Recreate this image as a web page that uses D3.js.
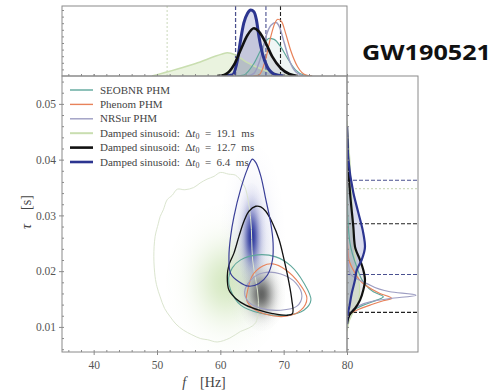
<!DOCTYPE html>
<html>
<head>
<meta charset="utf-8">
<script src="https://cdn.jsdelivr.net/npm/d3@7"></script>
<style>
  body { margin: 0; background: #fff; }
  svg { display: block; }
  .tick text { font-family: "Liberation Serif", serif; fill: #555; }
</style>
</head>
<body>
<svg id="chart" width="495" height="391"></svg>
<script>
// ---- values ----
const seriesKeys = ['SEOBNR', 'Phenom', 'NRSur', 'DS19', 'DS12', 'DS6']
const legendNames = ['SEOBNR PHM', 'Phenom PHM', 'NRSur PHM', 'Damped sinusoid:', 'Damped sinusoid:', 'Damped sinusoid:']
const legendDt = [null, null, null, '19.1', '12.7', '6.4']

// top marginal: [f (Hz), density]
const topSEOBNR = [[62.5, 0], [63.7, 0.015], [65.3, 0.19], [66.65, 0.44], [67.7, 0.57], [68.5, 0.555], [69.55, 0.44], [70.6, 0.27], [71.9, 0.09], [73.2, 0.015], [74.5, 0]]
const topPhenom = [[65.2, 0], [66.1, 0.015], [67.2, 0.27], [67.96, 0.595], [68.6, 0.8], [69.1, 0.86], [69.7, 0.82], [70.3, 0.65], [71.1, 0.39], [72.2, 0.14], [73.5, 0.015], [74.5, 0]]
const topNRSur = [[64.3, 0], [65.3, 0.04], [66.4, 0.29], [67.2, 0.6], [68.0, 0.77], [68.8, 0.81], [69.3, 0.75], [70.1, 0.5], [70.9, 0.24], [71.9, 0.065], [73.2, 0]]
const topDS19 = [[49.2, 0], [56.1, 0.19], [60.3, 0.333], [61.1, 0.353], [62.4, 0.318], [64.0, 0.217], [65.6, 0.141], [67.7, 0.065], [69.8, 0.015], [71.9, 0]]
const topDS12 = [[59.5, 0], [60.6, 0.015], [62.15, 0.167], [63.2, 0.394], [64.3, 0.621], [65.3, 0.723], [66.1, 0.671], [67.2, 0.495], [68.2, 0.292], [69.55, 0.117], [70.9, 0.03], [72.2, 0]]
const topDS6 = [[60.5, 0], [61.9, 0.015], [62.7, 0.24], [63.2, 0.545], [63.7, 0.8], [64.3, 0.95], [64.8, 1.0], [65.3, 0.974], [65.7, 0.85], [66.1, 0.595], [66.65, 0.34], [67.4, 0.14], [68.5, 0.03], [70, 0]]

// right marginal: [tau (s), density]
const rightSEOBNR = [[0.0110, 0], [0.0121, 0.019], [0.0130, 0.09], [0.0139, 0.233], [0.0148, 0.424], [0.0154, 0.519], [0.0163, 0.376], [0.0181, 0.233], [0.0208, 0.139], [0.0250, 0.043], [0.030, 0.01], [0.035, 0]]
const rightPhenom = [[0.0110, 0], [0.0118, 0.004], [0.0124, 0.043], [0.0130, 0.139], [0.0139, 0.329], [0.0147, 0.519], [0.0151, 0.639], [0.0160, 0.471], [0.0175, 0.257], [0.0202, 0.09], [0.0226, 0.019], [0.028, 0]]
const rightNRSur = [[0.0110, 0], [0.0124, 0.043], [0.0136, 0.139], [0.0145, 0.33], [0.0151, 0.614], [0.0157, 0.986], [0.0163, 0.614], [0.0178, 0.28], [0.0196, 0.043], [0.0230, 0.01], [0.028, 0]]
const rightDS19 = [[0.0092, 0], [0.0110, 0.03], [0.0130, 0.10], [0.0150, 0.17], [0.0170, 0.18], [0.0200, 0.14], [0.0250, 0.10], [0.0300, 0.08], [0.0350, 0.06], [0.0400, 0.04], [0.0450, 0.01], [0.047, 0]]
const rightDS12 = [[0.0105, 0], [0.0121, 0.033], [0.0133, 0.114], [0.0148, 0.186], [0.0166, 0.233], [0.0184, 0.257], [0.0202, 0.233], [0.0220, 0.186], [0.0244, 0.114], [0.0280, 0.09], [0.0341, 0.043], [0.040, 0.015], [0.046, 0]]
const rightDS6 = [[0.0105, 0], [0.0118, 0.004], [0.0136, 0.033], [0.0160, 0.067], [0.0184, 0.114], [0.0202, 0.139], [0.0220, 0.209], [0.0244, 0.257], [0.0268, 0.233], [0.0305, 0.161], [0.0341, 0.09], [0.0401, 0.019], [0.046, 0]]

// 90% intervals (dashed lines in the marginals)
const topLinesDS19 = [51.6]
const topLinesDS12 = [62.4, 69.5]
const topLinesDS6 = [62.4, 67.2]
const rightLinesDS19 = [0.0348]
const rightLinesDS12 = [0.0126, 0.0285]
const rightLinesDS6 = [0.0194, 0.0363]

// 2d credible contours: [f (Hz), tau (s)]
const contourDS19 = [[49.5, 0.0226], [49.7, 0.0262], [50.2, 0.0285], [50.5, 0.0298], [51.0, 0.0310], [51.6, 0.0328], [52.4, 0.0336], [53.2, 0.0347], [54.4, 0.0346], [55.8, 0.0350], [56.8, 0.0358], [57.9, 0.0365], [59.0, 0.0370], [60.0, 0.0377], [61.3, 0.0374], [62.4, 0.0372], [63.4, 0.0360], [64.0, 0.0347], [64.8, 0.0292], [65.1, 0.0220], [66.0, 0.0148], [65.6, 0.0108], [64.5, 0.0098], [63.2, 0.0092], [61.5, 0.0080], [59.5, 0.0073], [58.0, 0.0077], [56.9, 0.0079], [55.5, 0.0086], [54.2, 0.0094], [53.0, 0.0105], [52.1, 0.0118], [51.2, 0.0133], [50.5, 0.0154], [50.0, 0.0172], [49.7, 0.0190]]
const contourDS6 = [[65.06, 0.0401], [64.27, 0.0383], [63.21, 0.0347], [62.15, 0.0298], [61.62, 0.0262], [61.36, 0.0226], [61.62, 0.0196], [62.94, 0.0181], [64.52, 0.0173], [66.11, 0.0178], [67.44, 0.0193], [68.23, 0.0220], [68.33, 0.0250], [67.96, 0.0286], [67.17, 0.0329], [66.38, 0.0371], [65.59, 0.0395]]
const contourDS12 = [[65.59, 0.03164], [64.52, 0.03074], [63.73, 0.02894], [62.94, 0.02623], [62.15, 0.02323], [61.36, 0.02112], [61.10, 0.01901], [61.36, 0.01661], [62.42, 0.01511], [64.0, 0.0139], [66.11, 0.0130], [68.23, 0.0124], [70.61, 0.01209], [71.4, 0.0124], [71.29, 0.0148], [70.86, 0.01782], [70.07, 0.02202], [69.28, 0.02563], [68.23, 0.02865], [67.17, 0.03074], [66.38, 0.03153]]
const contourSEOBNR = [[61.89, 0.02058], [63.21, 0.02202], [65.86, 0.02292], [68.76, 0.02256], [71.13, 0.02094], [73.19, 0.01787], [74.3, 0.0148], [73.19, 0.0130], [70.34, 0.01209], [66.38, 0.01245], [63.21, 0.0139], [61.62, 0.01661], [61.31, 0.01877]]
const contourPhenom = [[64.32, 0.01661], [65.11, 0.01931], [66.7, 0.02094], [68.29, 0.0213], [70.35, 0.02022], [72.41, 0.01787], [73.67, 0.01516], [72.72, 0.0130], [70.35, 0.01191], [67.17, 0.01227], [65.11, 0.01336], [64.16, 0.0148]]
const contourNRSur = [[63.84, 0.01625], [64.79, 0.01841], [66.7, 0.01968], [69.55, 0.0195], [71.93, 0.01787], [72.88, 0.01552], [72.09, 0.01372], [69.55, 0.0130], [66.38, 0.01336], [64.48, 0.01444]]

// density shading: centre [f, tau] and spread [f, tau]
const densityKeys = ['DS19', 'DS6halo', 'DS12', 'DS6']
const densityCentres = [[61.0, 0.0180], [65.1, 0.0255], [66.5, 0.0158], [64.95, 0.0262]]
const densitySpreads = [[3.2, 0.0047], [1.7, 0.0058], [1.25, 0.0022], [0.75, 0.0032]]

// ticks
const xMajor = [40, 50, 60, 70, 80]
const xMinor = d3.range(36, 80, 2)
const yMajor = [0.01, 0.02, 0.03, 0.04, 0.05]
const yMinor = d3.range(0.006, 0.055, 0.002)

// ---- styles ----
const colors = { SEOBNR: '#5ea79b', Phenom: '#e8825a', NRSur: '#9d9dc2', DS19: '#c9deb0', DS12: '#111111', DS6: '#2c3590' }
const widths = { SEOBNR: 1.2, Phenom: 1.2, NRSur: 1.5, DS19: 1.5, DS12: 2.6, DS6: 3 }
const fills = { DS19: 'rgba(214,232,192,0.5)', DS12: 'rgba(60,60,90,0.13)', DS6: 'rgba(50,60,160,0.18)', SEOBNR: 'rgba(95,167,155,0.10)' }
const densityColors = { DS19: ['#a6cf7c', 0.45], DS6halo: ['#6a70c4', 0.3], DS12: ['#2a2a2a', 0.72], DS6: ['#1c2896', 0.92] }

const svg = d3.select('#chart')
const x = d3.scaleLinear().domain([35, 80]).range([62, 347])
const y = d3.scaleLinear().domain([0.0055, 0.055]).range([352, 76])
const yTop = d3.scaleLinear().domain([0, 1]).range([76, 10])
const xRight = d3.scaleLinear().domain([0, 1]).range([347, 417])

const defs = svg.append('defs')
const clip = (id, x0, y0, w, h) => defs.append('clipPath').attr('id', id)
  .append('rect').attr('x', x0).attr('y', y0).attr('width', w).attr('height', h)
clip('cMain', 62, 76, 285, 276)
clip('cTop', 62, 6, 285, 70)
clip('cRight', 347, 76, 71, 276)

// ---- main panel ----
const mainPanel = svg.append('g').attr('clip-path', 'url(#cMain)')

densityKeys.forEach((k, i) => {
  const [c, a] = densityColors[k]
  const g = defs.append('radialGradient').attr('id', 'g_' + k)
  d3.range(0, 1.01, 0.1).forEach(t => {
    g.append('stop').attr('offset', t).attr('stop-color', c)
      .attr('stop-opacity', a * Math.exp(-4.5 * t * t))
  })
  const [cf, ct] = densityCentres[i]
  const [sf, st] = densitySpreads[i]
  mainPanel.append('ellipse')
    .attr('cx', x(cf)).attr('cy', y(ct))
    .attr('rx', x(cf + 3 * sf) - x(cf))
    .attr('ry', y(ct) - y(ct + 3 * st))
    .attr('fill', `url(#g_${k})`)
})

const closed = d3.line().x(d => x(d[0])).y(d => y(d[1])).curve(d3.curveCatmullRomClosed)
const contours = [['DS19', contourDS19, 1], ['SEOBNR', contourSEOBNR, 1.1], ['Phenom', contourPhenom, 1.1],
  ['NRSur', contourNRSur, 1.1], ['DS12', contourDS12, 1.3], ['DS6', contourDS6, 1.2]]
contours.forEach(([k, pts, w]) => {
  mainPanel.append('path').datum(pts).attr('d', closed)
    .attr('fill', 'none').attr('stroke', k === 'DS6' ? '#3a3f98' : (k === 'DS19' ? '#dbe5cf' : colors[k]))
    .attr('stroke-width', w)
})

// ---- top marginal ----
const topPanel = svg.append('g').attr('clip-path', 'url(#cTop)')
const topData = { SEOBNR: topSEOBNR, Phenom: topPhenom, NRSur: topNRSur, DS19: topDS19, DS12: topDS12, DS6: topDS6 }
const topLine = d3.line().x(d => x(d[0])).y(d => yTop(d[1])).curve(d3.curveMonotoneX)
const topArea = d3.area().x(d => x(d[0])).y0(yTop(0)).y1(d => yTop(d[1])).curve(d3.curveMonotoneX)
;['DS19', 'SEOBNR', 'DS12', 'DS6'].forEach(k => {
  topPanel.append('path').datum(topData[k]).attr('d', topArea).attr('fill', fills[k])
})
const vlines = [[topLinesDS19, 'DS19'], [topLinesDS12, 'DS12'], [topLinesDS6, 'DS6']]
vlines.forEach(([vals, k]) => {
  topPanel.selectAll(null).data(vals).join('line')
    .attr('x1', d => x(d)).attr('x2', d => x(d)).attr('y1', 6).attr('y2', 76)
    .attr('stroke', k === 'DS19' ? '#cfdcc0' : (k === 'DS6' ? '#4a5090' : '#222'))
    .attr('stroke-width', 1.1).attr('stroke-dasharray', k === 'DS19' ? '2,2' : '4,2')
})
;['DS19', 'SEOBNR', 'NRSur', 'Phenom', 'DS6', 'DS12'].forEach(k => {
  topPanel.append('path').datum(topData[k]).attr('d', topLine)
    .attr('fill', 'none').attr('stroke', colors[k]).attr('stroke-width', widths[k])
})

// ---- right marginal ----
const rightPanel = svg.append('g').attr('clip-path', 'url(#cRight)')
const rightData = { SEOBNR: rightSEOBNR, Phenom: rightPhenom, NRSur: rightNRSur, DS19: rightDS19, DS12: rightDS12, DS6: rightDS6 }
const rightLine = d3.line().y(d => y(d[0])).x(d => xRight(d[1])).curve(d3.curveMonotoneY)
const rightArea = d3.area().y(d => y(d[0])).x0(xRight(0)).x1(d => xRight(d[1])).curve(d3.curveMonotoneY)
;['DS19', 'DS12', 'DS6'].forEach(k => {
  rightPanel.append('path').datum(rightData[k]).attr('d', rightArea).attr('fill', fills[k])
})
const hlines = [[rightLinesDS19, 'DS19'], [rightLinesDS12, 'DS12'], [rightLinesDS6, 'DS6']]
hlines.forEach(([vals, k]) => {
  rightPanel.selectAll(null).data(vals).join('line')
    .attr('y1', d => y(d)).attr('y2', d => y(d)).attr('x1', 347).attr('x2', 418)
    .attr('stroke', k === 'DS19' ? '#cfdcc0' : (k === 'DS6' ? '#4a5090' : '#222'))
    .attr('stroke-width', 1.1).attr('stroke-dasharray', k === 'DS19' ? '2,2' : '4,2')
})
;['DS19', 'SEOBNR', 'Phenom', 'NRSur', 'DS12', 'DS6'].forEach(k => {
  rightPanel.append('path').datum(rightData[k]).attr('d', rightLine)
    .attr('fill', 'none').attr('stroke', colors[k]).attr('stroke-width', k === 'DS12' || k === 'DS6' ? 2.2 : 1.2)
})

// ---- frames and axes ----
const frame = (x0, y0, w, h) => svg.append('rect').attr('x', x0).attr('y', y0).attr('width', w).attr('height', h)
  .attr('fill', 'none').attr('stroke', '#8a8a8a').attr('stroke-width', 1)
frame(62, 6, 285, 70)
frame(347, 76, 71, 276)
frame(62, 76, 285, 276)

const styleAxis = g => {
  g.select('.domain').remove()
  g.selectAll('.tick line').attr('stroke', '#8a8a8a')
}
svg.append('g').attr('transform', 'translate(0,352)')
  .call(d3.axisBottom(x).tickValues(xMajor).tickSize(3).tickPadding(6).tickFormat(d3.format('d')))
  .call(styleAxis).selectAll('text').attr('font-size', 11.5)
svg.append('g').attr('transform', 'translate(0,352)')
  .call(d3.axisBottom(x).tickValues(xMinor).tickSize(-2).tickFormat(''))
  .call(styleAxis)
svg.append('g').attr('transform', 'translate(0,76)')
  .call(d3.axisBottom(x).tickValues(xMinor.concat(xMajor)).tickSize(-2).tickFormat(''))
  .call(styleAxis)
svg.append('g').attr('transform', 'translate(62,0)')
  .call(d3.axisLeft(y).tickValues(yMajor).tickSize(3).tickPadding(3).tickFormat(d3.format('.2f')))
  .call(styleAxis).selectAll('text').attr('font-size', 11.5)
svg.append('g').attr('transform', 'translate(62,0)')
  .call(d3.axisLeft(y).tickValues(yMinor).tickSize(-2).tickFormat(''))
  .call(styleAxis)
svg.append('g').attr('transform', 'translate(347,0)')
  .call(d3.axisLeft(y).tickValues(yMinor).tickSize(-2).tickFormat(''))
  .call(styleAxis)
svg.append('g').attr('transform', 'translate(62,0)')
  .call(d3.axisLeft(yTop).tickValues(d3.range(0.1, 1.01, 0.1)).tickSize(-2).tickFormat(''))
  .call(styleAxis)

// axis labels
const xl = svg.append('text').attr('x', 204).attr('y', 387).attr('text-anchor', 'middle')
  .attr('font-family', 'Liberation Serif, serif').attr('font-size', 14).attr('fill', '#444')
xl.append('tspan').attr('font-style', 'italic').text('f')
xl.append('tspan').text('\u2002\u2002[Hz]')
const yl = svg.append('text').attr('transform', 'translate(31,212) rotate(-90)').attr('text-anchor', 'middle')
  .attr('font-family', 'Liberation Serif, serif').attr('font-size', 14).attr('fill', '#444')
yl.append('tspan').attr('font-style', 'italic').text('τ')
yl.append('tspan').text('\u2002\u2002[s]')

// ---- legend ----
const leg = svg.append('g').selectAll('g').data(seriesKeys).join('g')
  .attr('transform', (d, i) => `translate(70,${90 + i * 14.4})`)
leg.append('line').attr('x1', 0).attr('x2', 23)
  .attr('stroke', d => colors[d]).attr('stroke-width', d => (d === 'DS12' || d === 'DS6') ? 2.6 : (d === 'DS19' ? 2 : 1.4))
const lt = leg.append('text').attr('x', 30).attr('y', 3.5)
  .attr('font-family', 'Liberation Serif, serif').attr('font-size', 11).attr('fill', '#444')
lt.append('tspan').text((d, i) => legendNames[i])
lt.filter((d, i) => legendDt[i]).each(function (d) {
  const i = seriesKeys.indexOf(d)
  const t = d3.select(this)
  t.append('tspan').text('\u2002Δ')
  t.append('tspan').attr('font-style', 'italic').text('t')
  t.append('tspan').attr('font-size', 8).attr('dy', 2).text('0')
  t.append('tspan').attr('dy', -2).text(`\u2002=\u2002${legendDt[i]}\u2002ms`)
})

// ---- title ----
svg.append('text').attr('x', 362).attr('y', 60)
  .attr('font-family', 'Open Sans, sans-serif').attr('font-weight', 700).attr('font-size', 22)
  .attr('textLength', 129).attr('lengthAdjust', 'spacingAndGlyphs').attr('fill', '#111')
  .text('GW190521')
</script>
</body>
</html>
